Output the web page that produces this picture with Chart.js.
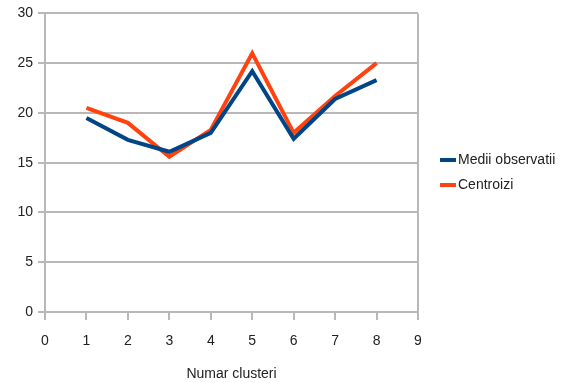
<!DOCTYPE html>
<html>
<head>
<meta charset="utf-8">
<script src="https://cdn.jsdelivr.net/npm/chart.js@4/dist/chart.umd.min.js"></script>
<style>
  html, body { margin: 0; padding: 0; background: #fff; }
  #wrap { width: 563px; height: 383px; }
</style>
</head>
<body>
<div id="wrap"><canvas id="c" width="563" height="383"></canvas></div>
<script>
// Cluster counts and the two measured series
const clusters = [1, 2, 3, 4, 5, 6, 7, 8];
const mediiObservatii = [19.5, 17.3, 16.1, 18.0, 24.2, 17.4, 21.4, 23.3];
const centroizi = [20.5, 19.0, 15.6, 18.3, 26.0, 18.0, 21.7, 25.0];
const yTicks = [0, 5, 10, 15, 20, 25, 30];
const xTicks = [0, 1, 2, 3, 4, 5, 6, 7, 8, 9];

const GRID = '#b8b8b8';
const TEXT = '#222';
const FONT = 'Liberation Sans';

const toPoints = (ys) => clusters.map((x, i) => ({ x: x, y: ys[i] }));

// Legend drawn beside the plot: short coloured bar + series label
const sideLegend = {
  id: 'sideLegend',
  afterDraw(chart) {
    const ctx = chart.ctx;
    const rows = [160, 185];
    ctx.save();
    ctx.font = '14px "' + FONT + '"';
    ctx.textBaseline = 'middle';
    chart.data.datasets.forEach((ds, i) => {
      const y = rows[i];
      ctx.strokeStyle = ds.borderColor;
      ctx.lineWidth = 4;
      ctx.beginPath();
      ctx.moveTo(440, y);
      ctx.lineTo(456, y);
      ctx.stroke();
      ctx.fillStyle = TEXT;
      ctx.fillText(ds.label, 458, y);
    });
    ctx.restore();
  }
};

new Chart(document.getElementById('c'), {
  type: 'line',
  data: {
    datasets: [
      {
        label: 'Medii observatii',
        data: toPoints(mediiObservatii),
        borderColor: '#004586',
        backgroundColor: '#004586',
        borderWidth: 4,
        pointRadius: 0,
        tension: 0
      },
      {
        label: 'Centroizi',
        data: toPoints(centroizi),
        borderColor: '#ff420e',
        backgroundColor: '#ff420e',
        borderWidth: 4,
        pointRadius: 0,
        tension: 0
      }
    ]
  },
  options: {
    responsive: false,
    animation: false,
    devicePixelRatio: 1,
    layout: { padding: { top: 12, right: 145, left: 0, bottom: 0 } },
    plugins: {
      legend: { display: false },
      tooltip: { enabled: false }
    },
    scales: {
      x: {
        type: 'linear',
        min: 0,
        max: 9,
        afterBuildTicks(axis) { axis.ticks = xTicks.map(v => ({ value: v })); },
        afterFit(axis) { axis.height = 71; },
        ticks: {
          color: TEXT,
          font: { family: FONT, size: 14 },
          padding: 13,
          maxRotation: 0
        },
        grid: {
          color: (c) => (c.tick && c.tick.value === 9 ? GRID : 'rgba(0,0,0,0)'),
          tickColor: GRID,
          lineWidth: 2,
          tickLength: 8
        },
        border: { color: GRID, width: 2 },
        title: {
          display: true,
          text: 'Numar clusteri',
          color: TEXT,
          font: { family: FONT, size: 14 },
          padding: { top: 4, bottom: 0 }
        }
      },
      y: {
        min: 0,
        max: 30,
        afterBuildTicks(axis) { axis.ticks = yTicks.map(v => ({ value: v })); },
        afterFit(axis) { axis.width = 45; },
        ticks: {
          color: TEXT,
          font: { family: FONT, size: 14 },
          padding: 5
        },
        grid: {
          color: GRID,
          lineWidth: 2,
          tickLength: 7
        },
        border: { color: GRID, width: 2 }
      }
    }
  },
  plugins: [sideLegend]
});
</script>
</body>
</html>
